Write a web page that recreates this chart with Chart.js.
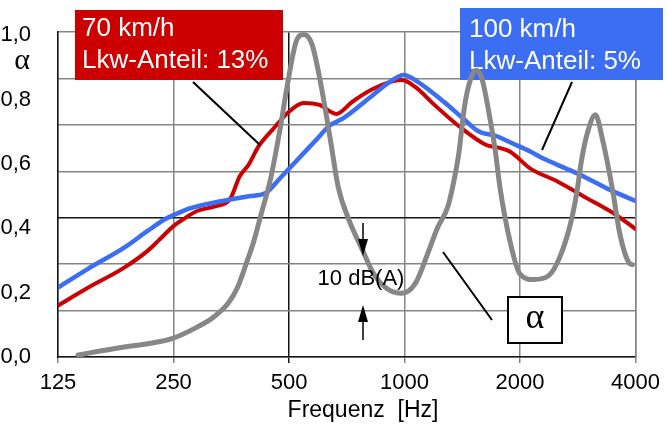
<!DOCTYPE html>
<html>
<head>
<meta charset="utf-8">
<script src="https://cdn.jsdelivr.net/npm/chart.js@4.4.1/dist/chart.umd.min.js"></script>
<style>
  html, body { margin: 0; padding: 0; background: #fff; }
</style>
</head>
<body>
<canvas id="chart" width="667" height="428"></canvas>
<script>
// Frequency axis (Hz, log) and alpha axis ticks
const FREQ_TICKS = [125, 250, 500, 1000, 2000, 4000]
const ALPHA_TICKS = [0, 0.2, 0.4, 0.6, 0.8, 1.0]

// 70 km/h, Lkw-Anteil 13 %
const freqRed = [125, 150, 186, 214, 228, 250, 268, 288, 322, 351, 372, 393, 416, 453, 499, 546, 600, 664, 730, 817, 914, 983, 1066, 1197, 1392, 1628, 1755, 1882, 2128, 2504, 2985, 3535, 4000]
const alphaRed = [0.160, 0.216, 0.278, 0.330, 0.361, 0.407, 0.432, 0.454, 0.469, 0.491, 0.562, 0.599, 0.654, 0.707, 0.762, 0.790, 0.784, 0.756, 0.793, 0.830, 0.855, 0.861, 0.840, 0.784, 0.716, 0.660, 0.651, 0.639, 0.586, 0.546, 0.494, 0.444, 0.398]

// 100 km/h, Lkw-Anteil 5 %
const freqBlue = [125, 150, 186, 214, 238, 253, 277, 335, 393, 433, 474, 521, 583, 642, 690, 803, 914, 995, 1085, 1268, 1424, 1563, 1725, 1915, 2128, 2300, 2637, 2851, 3399, 4000]
const alphaBlue = [0.216, 0.275, 0.340, 0.392, 0.429, 0.444, 0.463, 0.485, 0.500, 0.509, 0.556, 0.608, 0.670, 0.722, 0.741, 0.802, 0.855, 0.877, 0.855, 0.793, 0.741, 0.701, 0.688, 0.664, 0.639, 0.617, 0.586, 0.568, 0.522, 0.485]

// absorption coefficient alpha
const freqAlpha = [141, 150, 186, 218, 250, 288, 317, 347, 367, 389, 405, 423, 448, 474, 493, 521, 546, 574, 607, 642, 671, 718, 772, 831, 899, 983, 1066, 1149, 1218, 1298, 1344, 1384, 1433, 1484, 1536, 1590, 1676, 1725, 1776, 1882, 1997, 2170, 2376, 2536, 2707, 2815, 2889, 3004, 3144, 3290, 3490, 3628, 3748, 3847, 3923]
const alphaAlpha = [0.006, 0.012, 0.031, 0.043, 0.059, 0.093, 0.123, 0.167, 0.216, 0.299, 0.361, 0.444, 0.556, 0.710, 0.833, 0.978, 1.003, 0.972, 0.840, 0.670, 0.531, 0.423, 0.340, 0.259, 0.213, 0.198, 0.228, 0.321, 0.401, 0.469, 0.546, 0.630, 0.778, 0.861, 0.892, 0.867, 0.731, 0.639, 0.522, 0.361, 0.259, 0.241, 0.253, 0.309, 0.414, 0.515, 0.608, 0.701, 0.753, 0.670, 0.515, 0.392, 0.324, 0.293, 0.287]

const COLORS = {
    red: '#cc0000',
    blue: '#3b6ef2',
    grey: '#878787',
    grid: '#858585',
    dark: '#151515',
}

const SANS = '"Liberation Sans", Arial, sans-serif'
const SERIF = '"Liberation Serif", "Times New Roman", serif'

const toPoints = (xs, ys) => xs.map((x, i) => ({x: x, y: ys[i]}))

function arrow(ctx, x, y1, y2) {
    // shaft from y1 to tip at y2
    const dir = y2 > y1 ? 1 : -1
    ctx.beginPath()
    ctx.moveTo(x, y1)
    ctx.lineTo(x, y2 - dir * 14)
    ctx.stroke()
    ctx.beginPath()
    ctx.moveTo(x, y2)
    ctx.lineTo(x - 5, y2 - dir * 17)
    ctx.lineTo(x + 5, y2 - dir * 17)
    ctx.closePath()
    ctx.fill()
}

function labelBox(ctx, x, y, w, h, color, lines, textX, lineYs) {
    ctx.fillStyle = color
    ctx.fillRect(x, y, w, h)
    ctx.fillStyle = '#fff'
    ctx.font = '26px ' + SANS
    ctx.textAlign = 'left'
    ctx.textBaseline = 'middle'
    lines.forEach((t, i) => ctx.fillText(t, textX, lineYs[i]))
}

const annotations = {
    id: 'annotations',
    beforeDatasetsDraw(chart) {
        const ctx = chart.ctx
        ctx.save()
        labelBox(ctx, 75, 10, 208, 70, COLORS.red, ['70 km/h', 'Lkw-Anteil: 13%'], 82, [29, 61])
        labelBox(ctx, 460, 8, 203, 72, COLORS.blue, ['100 km/h', 'Lkw-Anteil: 5%'], 469, [30, 62])
        ctx.restore()
    },
    afterDatasetsDraw(chart) {
        const ctx = chart.ctx
        ctx.save()
        ctx.strokeStyle = '#000'
        ctx.fillStyle = '#000'
        ctx.lineWidth = 2

        // leader lines
        ctx.beginPath()
        ctx.moveTo(193, 82); ctx.lineTo(260, 145)
        ctx.moveTo(572, 82); ctx.lineTo(542, 150)
        ctx.moveTo(443, 252); ctx.lineTo(492, 320)
        ctx.stroke()

        // alpha box
        ctx.fillStyle = '#fff'
        ctx.fillRect(508, 297, 54, 46)
        ctx.strokeRect(508, 297, 54, 46)
        ctx.fillStyle = '#000'
        ctx.font = '36px ' + SERIF
        ctx.textAlign = 'center'
        ctx.textBaseline = 'middle'
        ctx.fillText('α', 535, 319)

        // axis label alpha
        ctx.font = '30px ' + SERIF
        ctx.fillText('α', 22, 61)

        // 10 dB(A) marker
        ctx.font = '22px ' + SANS
        ctx.fillText('10 dB(A)', 361, 279)
        ctx.lineWidth = 1.5
        arrow(ctx, 363, 223, 256)
        arrow(ctx, 363, 340, 305)

        // x axis title
        ctx.font = '23px ' + SANS
        ctx.fillText('Frequenz  [Hz]', 363, 411)
        ctx.restore()
    },
}

new Chart(document.getElementById('chart'), {
    type: 'line',
    data: {
        datasets: [
            {
                label: 'α',
                data: toPoints(freqAlpha, alphaAlpha),
                borderColor: COLORS.grey,
                borderWidth: 5,
            },
            {
                label: '100 km/h',
                data: toPoints(freqBlue, alphaBlue),
                borderColor: COLORS.blue,
                borderWidth: 4.5,
            },
            {
                label: '70 km/h',
                data: toPoints(freqRed, alphaRed),
                borderColor: COLORS.red,
                borderWidth: 4,
            },
        ],
    },
    options: {
        responsive: false,
        animation: false,
        events: [],
        elements: {
            point: { radius: 0 },
            line: { cubicInterpolationMode: 'monotone', borderCapStyle: 'round', borderJoinStyle: 'round' },
        },
        layout: { padding: { top: 30, right: 25, left: 0, bottom: 0 } },
        plugins: {
            legend: { display: false },
            tooltip: { enabled: false },
        },
        scales: {
            x: {
                type: 'logarithmic',
                min: 125,
                max: 4000,
                afterBuildTicks: axis => { axis.ticks = FREQ_TICKS.map(v => ({value: v})) },
                afterFit: axis => { axis.height = 71 },
                ticks: {
                    autoSkip: false,
                    maxRotation: 0,
                    padding: 7,
                    color: '#000',
                    font: { size: 22, family: SANS },
                    callback: v => String(v),
                },
                grid: {
                    color: c => (c.tick && c.tick.value === 500) ? COLORS.dark : COLORS.grid,
                    lineWidth: 1.5,
                    tickLength: 6,
                },
                border: { color: COLORS.dark, width: 1.5 },
            },
            y: {
                position: 'left',
                min: 0,
                max: 1.01,
                afterBuildTicks: axis => { axis.ticks = ALPHA_TICKS.map(v => ({value: v})) },
                afterFit: axis => { axis.width = 58 },
                ticks: {
                    padding: 19,
                    color: '#000',
                    font: { size: 22, family: SANS },
                    callback: v => v.toFixed(1).replace('.', ','),
                },
                grid: { display: false },
                border: { color: COLORS.dark, width: 1.5 },
            },
            yGrid: {
                axis: 'y',
                type: 'linear',
                position: 'right',
                min: 0,
                max: 7,
                ticks: { display: false, stepSize: 1 },
                grid: {
                    color: c => (c.tick && c.tick.value === 3) ? COLORS.dark : COLORS.grid,
                    lineWidth: 1.5,
                    drawTicks: false,
                },
                border: { color: COLORS.grid, width: 1.5 },
                afterFit: axis => { axis.width = 0 },
            },
        },
    },
    plugins: [annotations],
})
</script>
</body>
</html>
